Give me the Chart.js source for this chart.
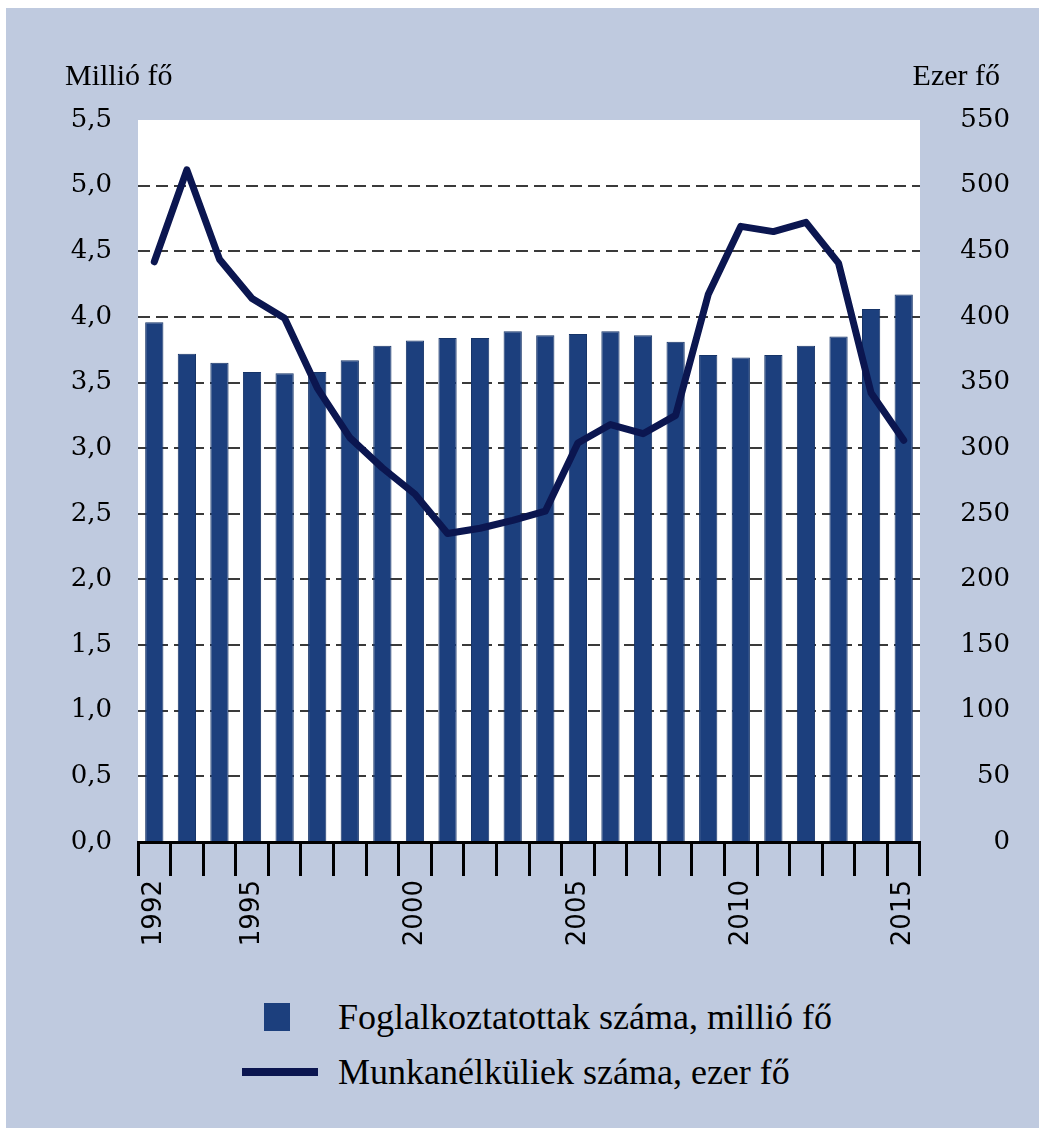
<!DOCTYPE html>
<html>
<head>
<meta charset="utf-8">
<script src="https://cdn.jsdelivr.net/npm/chart.js@4/dist/chart.umd.min.js"></script>
<style>
  html, body { margin: 0; padding: 0; background: #fff; }
  #frame { position: absolute; left: 6px; top: 8px; width: 1033px; height: 1120px; background: #bfcadf; }
  #wrap { position: absolute; left: 0; top: 0; width: 1043px; height: 980px; }
  .leg-row { position: absolute; left: 0; width: 1043px; height: 44px; }
  .leg-mark { position: absolute; }
  .leg-text { position: absolute; left: 338px; top: 0; line-height: 44px;
    font-family: 'Liberation Serif', serif; font-size: 36px; color: #000; white-space: nowrap; }
</style>
</head>
<body>
<div id="frame"></div>
<div id="wrap"><canvas id="chart"></canvas></div>
<div id="legend"></div>
<script>
const years = [1992, 1993, 1994, 1995, 1996, 1997, 1998, 1999, 2000, 2001, 2002, 2003,
  2004, 2005, 2006, 2007, 2008, 2009, 2010, 2011, 2012, 2013, 2014, 2015];
const shownYears = [1992, 1995, 2000, 2005, 2010, 2015];

// Foglalkoztatottak, millió fő (bal tengely)
const employed = [3.96, 3.72, 3.65, 3.58, 3.57, 3.58, 3.67, 3.78, 3.82, 3.84, 3.84, 3.89,
  3.86, 3.87, 3.89, 3.86, 3.81, 3.71, 3.69, 3.71, 3.78, 3.85, 4.06, 4.17];
// Munkanélküliek, ezer fő (jobb tengely)
const unemployed = [442, 512, 444, 414, 399, 346, 308, 285, 265, 235, 239, 245,
  252, 304, 318, 311, 325, 417, 469, 465, 472, 441, 342, 306];

const barLabel = 'Foglalkoztatottak száma, millió fő';
const lineLabel = 'Munkanélküliek száma, ezer fő';
const leftTitle = 'Millió fő';
const rightTitle = 'Ezer fő';

const barColor = '#1c3f7d';
const lineColor = '#0b1650';

const tickFont = { family: 'DejaVu Serif', size: 26 };

// white plot area + axis titles above the axes
const plotBg = {
  id: 'plotBg',
  beforeDraw(chart) {
    const { ctx, chartArea: a } = chart;
    ctx.save();
    ctx.fillStyle = '#fff';
    ctx.fillRect(a.left, a.top, a.right - a.left, a.bottom - a.top);
    ctx.restore();
  },
  afterDraw(chart) {
    const ctx = chart.ctx;
    ctx.save();
    ctx.fillStyle = '#000';
    ctx.font = '30px "Liberation Serif"';
    ctx.textBaseline = 'alphabetic';
    ctx.textAlign = 'left';
    ctx.fillText(leftTitle, 65, 85);
    ctx.textAlign = 'right';
    ctx.fillText(rightTitle, 1000, 85);
    ctx.restore();
  }
};

const chart = new Chart(document.getElementById('chart'), {
  data: {
    labels: years,
    datasets: [
      {
        type: 'line',
        label: lineLabel,
        data: unemployed,
        yAxisID: 'y1',
        borderColor: lineColor,
        borderWidth: 7,
        borderJoinStyle: 'round',
        borderCapStyle: 'round',
        pointRadius: 0,
        tension: 0,
        order: 1
      },
      {
        type: 'bar',
        label: barLabel,
        data: employed,
        yAxisID: 'y',
        backgroundColor: barColor,
        borderColor: '#163468',
        borderWidth: 1,
        categoryPercentage: 1,
        barPercentage: 0.56,
        order: 2
      }
    ]
  },
  options: {
    responsive: true,
    maintainAspectRatio: false,
    animation: false,
    layout: { padding: { left: 68, right: 33, top: 120, bottom: 18 } },
    plugins: { legend: { display: false }, tooltip: { enabled: false } },
    scales: {
      x: {
        type: 'category',
        offset: true,
        grid: { offset: true, drawOnChartArea: false, drawTicks: true, tickLength: 34, tickWidth: 3, tickColor: '#000' },
        border: { display: true, color: '#000', width: 3 },
        ticks: {
          autoSkip: false,
          maxRotation: 90,
          minRotation: 90,
          padding: 4,
          color: '#000',
          font: { family: 'DejaVu Sans', size: 26 },
          callback: (v, i) => shownYears.includes(years[i]) ? String(years[i]) : ''
        },
        afterFit: s => { s.height = 120; }
      },
      y: {
        position: 'left',
        min: 0,
        max: 5.5,
        ticks: {
          stepSize: 0.5,
          padding: 26,
          color: '#000',
          font: tickFont,
          callback: v => v.toFixed(1).replace('.', ',')
        },
        grid: {
          drawTicks: false,
          lineWidth: 2,
          color: c => (c.tick.value === 0 || c.tick.value === 5.5) ? 'rgba(0,0,0,0)' : '#3a3a3a'
        },
        border: { display: false, dash: [12, 6] },
        afterFit: s => { s.width = 70; }
      },
      y1: {
        position: 'right',
        min: 0,
        max: 550,
        ticks: { stepSize: 50, padding: 28, crossAlign: 'far', color: '#000', font: tickFont },
        grid: { drawOnChartArea: false, drawTicks: false },
        border: { display: false },
        afterFit: s => { s.width = 90; }
      }
    }
  },
  plugins: [plotBg]
});

// legend below the chart, built from the datasets
const legend = document.getElementById('legend');
const rows = [
  { ds: chart.data.datasets[1], top: 995, mark: { left: 264, top: 8, width: 26, height: 28, bg: barColor } },
  { ds: chart.data.datasets[0], top: 1050, mark: { left: 242, top: 18, width: 76, height: 8, bg: lineColor } }
];
rows.forEach(r => {
  const row = document.createElement('div');
  row.className = 'leg-row';
  row.style.top = r.top + 'px';
  const m = document.createElement('div');
  m.className = 'leg-mark';
  Object.assign(m.style, { left: r.mark.left + 'px', top: r.mark.top + 'px', width: r.mark.width + 'px', height: r.mark.height + 'px', background: r.mark.bg });
  const t = document.createElement('div');
  t.className = 'leg-text';
  t.textContent = r.ds.label;
  row.appendChild(m);
  row.appendChild(t);
  legend.appendChild(row);
});
</script>
</body>
</html>
